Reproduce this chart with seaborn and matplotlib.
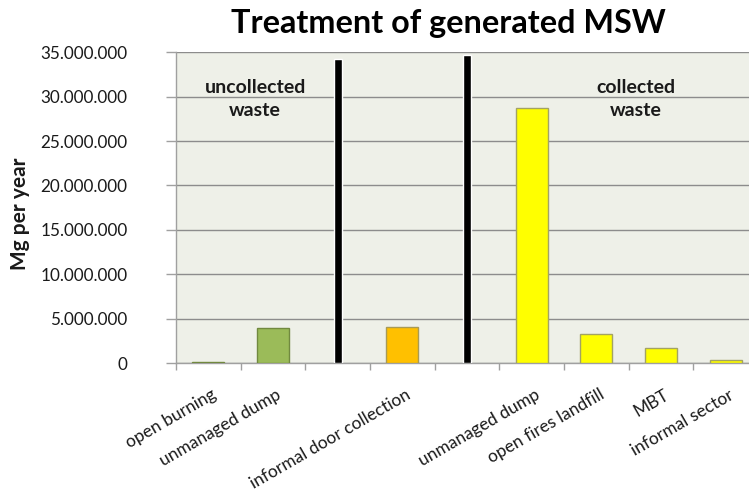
import matplotlib
matplotlib.use("Agg")
import matplotlib.pyplot as plt
import matplotlib.transforms as mtransforms
from matplotlib.ticker import FuncFormatter, FixedLocator
import numpy as np
import pandas as pd
import seaborn as sns

# Categories along the x axis (two empty slots hold the group dividers)
slot_labels = ["open burning", "unmanaged dump", "", "informal door collection", "",
               "unmanaged dump", "open fires landfill", "MBT", "informal sector"]

# Treatment routes that carry a bar
bar_slots = [0, 1, 3, 5, 6, 7, 8]
bar_values = [120_000, 3_950_000, 4_100_000, 28_750_000, 3_230_000, 1_730_000, 380_000]
bar_groups = ["uncollected", "uncollected", "informal", "collected", "collected", "collected", "collected"]

# Divider marks between uncollected / informal / collected waste
divider_slots = [2, 4]
divider_heights = [34_300_000, 34_650_000]

group_colors = {"uncollected": "#9BBB59", "informal": "#FFC000", "collected": "#FFFF00"}
group_edges = {"uncollected": "#71893F", "informal": "#A89A55", "collected": "#A3A363"}

sns.set_theme(style="white")
plt.rcParams["font.family"] = ["Lato", "DejaVu Sans"]

df = pd.DataFrame({"slot": [str(s) for s in bar_slots], "value": bar_values, "group": bar_groups})
order = [str(i) for i in range(len(slot_labels))]

fig = plt.figure(figsize=(7.49, 4.91), dpi=100)
W, H = 749, 491
ax = fig.add_axes([176 / W, 1 - 363 / H, 582 / W, (363 - 52.3) / H])
ax.set_facecolor("#EEF0E8")

sns.barplot(data=df, x="slot", y="value", hue="group", order=order, palette=group_colors,
            saturation=1, dodge=False, width=0.49, legend=False, ax=ax, zorder=3)
for patch, grp in zip(ax.patches, bar_groups):
    patch.set_edgecolor(group_edges[grp])
    patch.set_linewidth(1.0)

ax.bar(divider_slots, divider_heights, width=0.124, color="black", zorder=4)

ax.set_xlim(-0.5, len(slot_labels) - 0.5)
ax.set_ylim(0, 35_000_000)
ax.yaxis.set_major_locator(FixedLocator(np.arange(0, 35_000_001, 5_000_000)))
ax.yaxis.set_major_formatter(FuncFormatter(lambda v, _: f"{v:,.0f}".replace(",", ".")))
ax.yaxis.grid(True, color="#8C8C8C", linewidth=1.0)
ax.set_axisbelow(True)

for side in ("top", "right"):
    ax.spines[side].set_visible(False)
for side in ("left", "bottom"):
    ax.spines[side].set_color("#A0A0A0")
    ax.spines[side].set_linewidth(1.0)

ax.tick_params(axis="y", which="major", left=True, length=7, width=1, color="#A0A0A0",
               direction="out", pad=28, labelsize=12.3, labelcolor="#1A1A1A")

ax.set_xticks(range(len(slot_labels)))
ax.set_xticklabels(slot_labels, rotation=30, ha="right", va="top", rotation_mode="anchor",
                   fontsize=12.5, color="#1A1A1A")
ax.xaxis.set_minor_locator(FixedLocator(np.arange(-0.5, len(slot_labels), 1.0)))
ax.tick_params(axis="x", which="major", bottom=True, length=0, pad=17)
ax.tick_params(axis="x", which="minor", bottom=True, length=5, width=1, color="#A0A0A0", direction="out")
shift = mtransforms.ScaledTranslation(3 / 100, 0, fig.dpi_scale_trans)
for lbl in ax.get_xticklabels():
    lbl.set_transform(lbl.get_transform() + shift)

ax.set_xlabel("")
ax.set_ylabel("Mg per year", fontsize=15, fontweight="bold", color="#1A1A1A")
ax.yaxis.set_label_coords((30 - 176) / 582, (363 - 214) / (363 - 52.3))

fig.text(448 / W, 1 - 24 / H, "Treatment of generated MSW", ha="center", va="center",
         fontsize=23.3, fontweight="bold", color="black")

ax.text(0.136, 0.85, "uncollected\nwaste", transform=ax.transAxes, ha="center", va="center",
        fontsize=14, fontweight="bold", color="#1A1A1A", linespacing=1.45)
ax.text(0.790, 0.85, "collected\nwaste", transform=ax.transAxes, ha="center", va="center",
        fontsize=14, fontweight="bold", color="#1A1A1A", linespacing=1.45)

fig.savefig("out.png", dpi=100, facecolor="white")
